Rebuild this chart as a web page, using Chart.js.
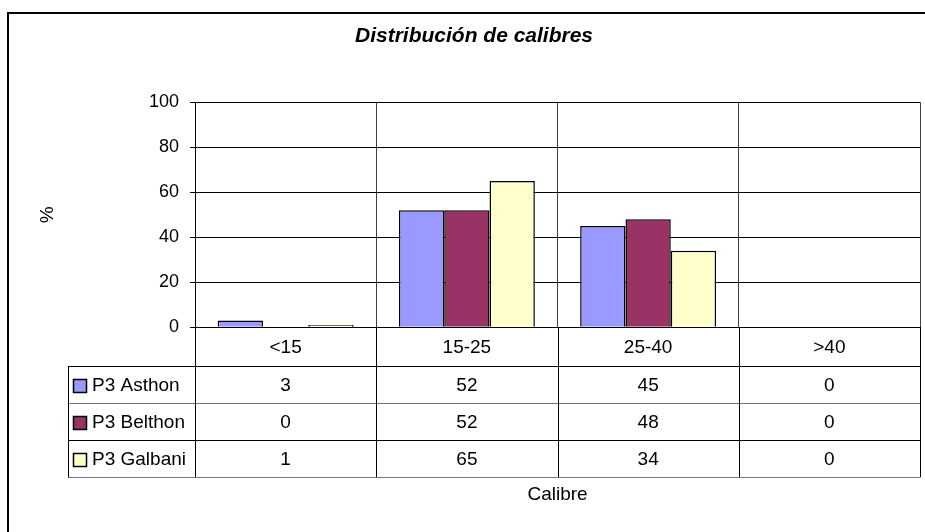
<!DOCTYPE html>
<html>
<head>
<meta charset="utf-8">
<script src="https://cdn.jsdelivr.net/npm/chart.js@4/dist/chart.umd.min.js"></script>
<style>
  body { margin: 0; background: #fff; }
  canvas { display: block; }
</style>
</head>
<body>
<canvas id="calibreChart" width="925" height="532"></canvas>
<script>
// data
const categories = ['<15', '15-25', '25-40', '>40'];
const seriesNames = ['P3 Asthon', 'P3 Belthon', 'P3 Galbani'];
const asthon = [3, 52, 45, 0];
const belthon = [0, 52, 48, 0];
const galbani = [1, 65, 34, 0];
const yMin = 0, yMax = 100, yStep = 20;

const seriesValues = [asthon, belthon, galbani];
const seriesColors = ['#9999FF', '#993366', '#FFFFCC'];
const fontFamily = '"Liberation Sans", Arial, sans-serif';

// outer frame of the chart object
let framePlugin = {
  id: 'frame',
  beforeDraw: function (chart) {
    const ctx = chart.ctx;
    ctx.save();
    ctx.strokeStyle = '#000';
    ctx.lineWidth = 2;
    ctx.beginPath();
    ctx.moveTo(8, chart.height);
    ctx.lineTo(8, 13);
    ctx.lineTo(chart.width, 13);
    ctx.stroke();
    ctx.restore();
  }
};

// data table under the plot, columns taken from the x scale
let tablePlugin = {
  id: 'dataTable',
  afterDraw: function (chart) {
    const ctx = chart.ctx;
    const xs = chart.scales.x;
    const area = chart.chartArea;
    const colW = (area.right - area.left) / categories.length;
    const headerH = 39, rowH = 37, tableLeft = 68;
    const rowTops = [area.bottom + headerH];
    for (let i = 1; i <= seriesNames.length; i++) {
      rowTops.push(rowTops[0] + i * rowH);
    }
    const tableBottom = rowTops[rowTops.length - 1];

    ctx.save();
    ctx.lineWidth = 1;
    ctx.strokeStyle = '#000';

    // horizontal lines
    rowTops.forEach(function (y, i) {
      ctx.strokeStyle = i % 2 === 0 ? '#000' : '#777';
      ctx.beginPath();
      ctx.moveTo(tableLeft, Math.round(y) + 0.5);
      ctx.lineTo(area.right, Math.round(y) + 0.5);
      ctx.stroke();
    });

    // vertical lines
    ctx.strokeStyle = '#000';
    ctx.beginPath();
    ctx.moveTo(tableLeft + 0.5, rowTops[0]);
    ctx.lineTo(tableLeft + 0.5, tableBottom);
    for (let i = 0; i <= categories.length; i++) {
      const x = Math.round(area.left + i * colW) + 0.5;
      ctx.moveTo(x, area.bottom);
      ctx.lineTo(x, tableBottom);
    }
    ctx.stroke();

    ctx.font = '19px ' + fontFamily;
    ctx.fillStyle = '#000';
    ctx.textBaseline = 'middle';

    // header row: category names
    ctx.textAlign = 'center';
    categories.forEach(function (cat, i) {
      ctx.fillText(cat, xs.getPixelForValue(i), area.bottom + headerH / 2 + 1);
    });

    // one row per series
    seriesNames.forEach(function (name, s) {
      const mid = rowTops[s] + rowH / 2 + 1;
      ctx.fillStyle = seriesColors[s];
      ctx.fillRect(73, Math.round(mid) - 7, 13, 13);
      ctx.strokeStyle = '#000';
      ctx.lineWidth = 1.5;
      ctx.strokeRect(73.5, Math.round(mid) - 6.5, 13, 13);
      ctx.fillStyle = '#000';
      ctx.textAlign = 'left';
      ctx.fillText(name, 92, mid);
      ctx.textAlign = 'center';
      seriesValues[s].forEach(function (v, i) {
        ctx.fillText(String(v), xs.getPixelForValue(i), mid);
      });
    });
    ctx.restore();
  }
};

let chartDraw = function () {
  const ctx = document.getElementById('calibreChart').getContext('2d');

  window.calibreChart = new Chart(ctx, {
    type: 'bar',
    data: {
      labels: categories,
      datasets: seriesNames.map(function (name, i) {
        return {
          label: name,
          data: seriesValues[i],
          backgroundColor: seriesColors[i],
          borderColor: '#000',
          borderWidth: 1.5,
          categoryPercentage: 0.75,
          barPercentage: 1
        };
      })
    },
    options: {
      responsive: false,
      animation: false,
      layout: { padding: { left: 28, right: 5, top: 0, bottom: 0 } },
      plugins: {
        legend: { display: false },
        tooltip: { enabled: false },
        title: {
          display: true,
          text: 'Distribución de calibres',
          color: '#000',
          font: { family: fontFamily, size: 21, style: 'italic', weight: 'bold' },
          padding: { top: 24, bottom: 53 }
        }
      },
      scales: {
        x: {
          grid: { color: '#404040', offset: true, drawTicks: false },
          border: { display: true, color: '#000' },
          ticks: { display: false },
          title: {
            display: true,
            text: 'Calibre',
            color: '#000',
            font: { family: fontFamily, size: 19 },
            padding: { top: 156, bottom: 26 }
          }
        },
        y: {
          min: yMin,
          max: yMax,
          ticks: {
            stepSize: yStep,
            color: '#000',
            padding: 11,
            font: { family: fontFamily, size: 18 }
          },
          grid: { color: '#000', tickLength: 5 },
          border: { display: true, color: '#000' },
          title: {
            display: true,
            text: '%',
            color: '#000',
            font: { family: fontFamily, size: 19 },
            padding: { top: 8, bottom: 0 }
          },
          afterFit: function (scale) {
            scale.width = 167;
          }
        }
      }
    },
    plugins: [framePlugin, tablePlugin]
  });
};

window.onload = function () {
  chartDraw();
};
</script>
</body>
</html>
